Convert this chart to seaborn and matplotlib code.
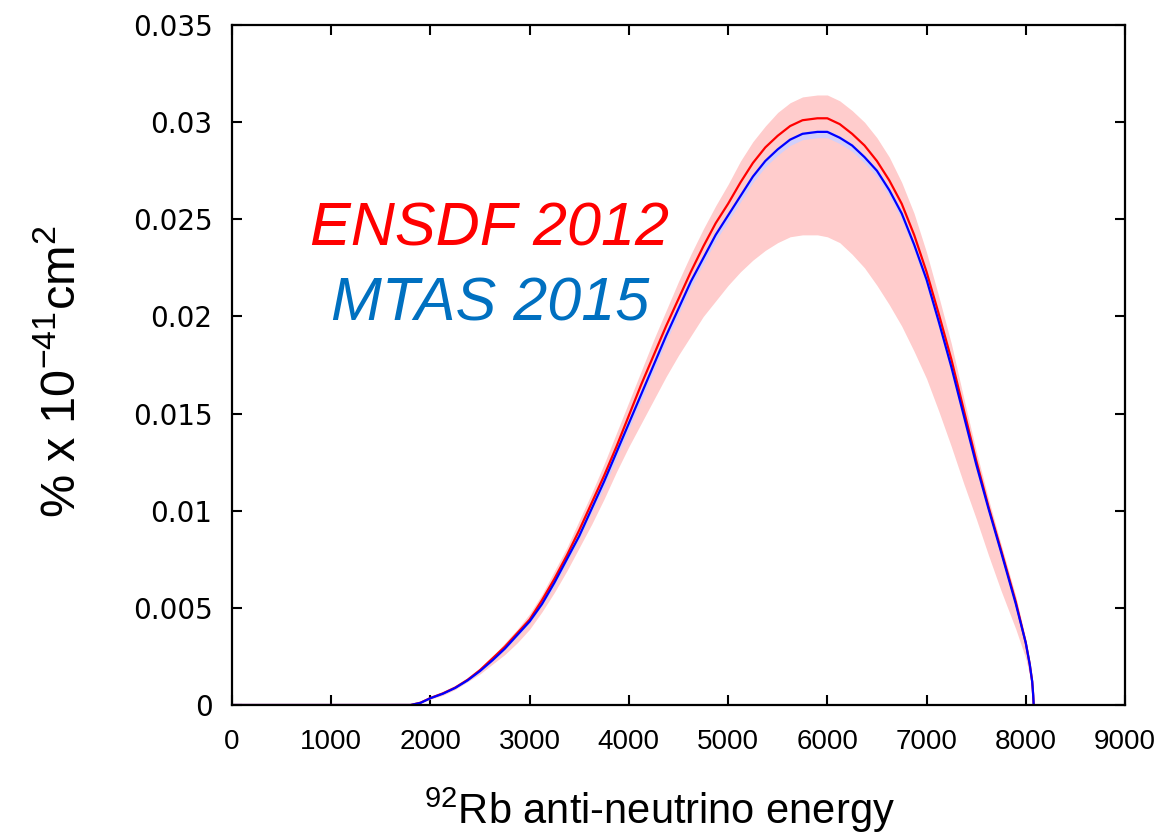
import numpy as np
import pandas as pd
import matplotlib
matplotlib.use("Agg")
import matplotlib.pyplot as plt
from matplotlib import font_manager
import seaborn as sns

# Anti-neutrino energy grid (keV)
energy = [0, 1750, 1800, 1900,
          2000, 2125, 2250, 2375, 2500, 2625, 2750, 2875, 3000, 3125, 3250,
          3375, 3500, 3625, 3750, 3875, 4000, 4125, 4250, 4375, 4500,
          4625, 4750, 4875, 5000, 5125, 5250, 5375, 5500, 5625, 5750,
          5900, 6000,
          6125, 6250, 6375, 6500, 6625, 6750, 6875, 7000, 7125, 7250,
          7375, 7500, 7625, 7750, 7900, 8000, 8040, 8065, 8075, 8080]

# ENSDF 2012 spectrum and its uncertainty band
ensdf = [0, 0, 0, 0.00012,
         0.00036, 0.0006, 0.0009, 0.0013, 0.0018, 0.0024, 0.0030, 0.0037, 0.0044,
         0.0054, 0.0065, 0.0077, 0.0090, 0.0104, 0.0118, 0.0133, 0.0149, 0.0165,
         0.0180, 0.0195, 0.0209,
         0.0223, 0.0236, 0.0248, 0.0258, 0.0269, 0.0279, 0.0287, 0.0293, 0.0298, 0.0301,
         0.0302, 0.0302,
         0.0299, 0.0294, 0.0288, 0.0280, 0.0270, 0.0258, 0.0242, 0.0223, 0.0201, 0.0178,
         0.0152, 0.0126, 0.0102, 0.0080, 0.0053, 0.0032, 0.0021, 0.0012, 0.0005, 0]
ensdf_low = [0, 0, 0, 0.0001,
             0.0003, 0.0005, 0.0008, 0.0012, 0.0016, 0.0021, 0.0026, 0.0032, 0.0039,
             0.0048, 0.0058, 0.0069, 0.0081, 0.0093, 0.0106, 0.0120, 0.0133, 0.0145,
             0.0157, 0.0169, 0.0180,
             0.0190, 0.0200, 0.0208, 0.0216, 0.0223, 0.0229, 0.0234, 0.0238, 0.0241, 0.0242,
             0.0242, 0.0241,
             0.0238, 0.0232, 0.0225, 0.0216, 0.0206, 0.0195, 0.0182, 0.0168, 0.0151, 0.0133,
             0.0114, 0.0096, 0.0077, 0.0059, 0.0039, 0.0024, 0.0015, 0.0008, 0.0003, 0]
ensdf_high = [0, 0, 0, 0.00013,
              0.0004, 0.00065, 0.00095, 0.0014, 0.0019, 0.0025, 0.0032, 0.0039, 0.0047,
              0.0057, 0.0069, 0.0081, 0.0095, 0.0109, 0.0124, 0.0140, 0.0156, 0.0172,
              0.0188, 0.0203, 0.0218,
              0.0232, 0.0245, 0.0257, 0.0268, 0.0280, 0.0290, 0.0298, 0.0305, 0.0310, 0.0313,
              0.0314, 0.0314,
              0.0311, 0.0306, 0.0300, 0.0292, 0.0282, 0.0269, 0.0253, 0.0233, 0.0210, 0.0186,
              0.0158, 0.0131, 0.0106, 0.0083, 0.0056, 0.0034, 0.0022, 0.0013, 0.0006, 0]

# MTAS 2015 spectrum and its uncertainty band
mtas = [0, 0, 0, 0.00011,
        0.00035, 0.00058, 0.00088, 0.00127, 0.00175, 0.0023, 0.0029, 0.0036, 0.0043,
        0.0052, 0.0063, 0.0075, 0.0087, 0.0101, 0.0115, 0.0130, 0.0145, 0.0160,
        0.0175, 0.0190, 0.0204,
        0.0218, 0.0230, 0.0242, 0.0252, 0.0262, 0.0272, 0.0280, 0.0286, 0.0291, 0.0294,
        0.0295, 0.0295,
        0.0292, 0.0288, 0.0282, 0.0275, 0.0265, 0.0253, 0.0237, 0.0219, 0.0197, 0.0174,
        0.0149, 0.0124, 0.0101, 0.0079, 0.0052, 0.0032, 0.0021, 0.0012, 0.0005, 0]
mtas_low = [0, 0, 0, 0.0001,
            0.00034, 0.00056, 0.00085, 0.00123, 0.0017, 0.00225, 0.00283, 0.0035, 0.0042,
            0.0051, 0.0061, 0.0073, 0.0085, 0.0099, 0.0112, 0.0127, 0.0142, 0.0157,
            0.0172, 0.0187, 0.0201,
            0.0215, 0.0227, 0.0239, 0.0249, 0.0259, 0.0269, 0.0277, 0.0283, 0.0288, 0.0291,
            0.0292, 0.0292,
            0.0289, 0.0285, 0.0279, 0.0272, 0.0262, 0.0250, 0.0234, 0.0216, 0.0194, 0.0172,
            0.0147, 0.0122, 0.0099, 0.0077, 0.0051, 0.0031, 0.0020, 0.0011, 0.0005, 0]
mtas_high = [0, 0, 0, 0.00012,
             0.00036, 0.0006, 0.0009, 0.0013, 0.0018, 0.00235, 0.0030, 0.0037, 0.0044,
             0.0053, 0.0064, 0.0076, 0.0088, 0.0102, 0.0116, 0.0131, 0.0146, 0.0161,
             0.0176, 0.0191, 0.0205,
             0.0219, 0.0231, 0.0243, 0.0253, 0.0263, 0.0273, 0.0281, 0.0287, 0.0292, 0.0295,
             0.0296, 0.0296,
             0.0293, 0.0289, 0.0283, 0.0276, 0.0266, 0.0254, 0.0238, 0.0220, 0.0198, 0.0175,
             0.0150, 0.0125, 0.0102, 0.0080, 0.0053, 0.0032, 0.0021, 0.0012, 0.0005, 0]

x_ticks = [0, 1000, 2000, 3000, 4000, 5000, 6000, 7000, 8000, 9000]
y_ticks = [0, 0.005, 0.01, 0.015, 0.02, 0.025, 0.03, 0.035]
y_tick_labels = ["0", "0.005", "0.01", "0.015", "0.02", "0.025", "0.03", "0.035"]

sns.set_style("ticks")
plt.rcParams["font.family"] = ["Liberation Sans", "DejaVu Sans"]
plt.rcParams["mathtext.fontset"] = "custom"
plt.rcParams["mathtext.rm"] = "Liberation Sans"
plt.rcParams["mathtext.it"] = "Liberation Sans:italic"
plt.rcParams["text.color"] = "black"
plt.rcParams["axes.labelcolor"] = "black"
plt.rcParams["xtick.color"] = "black"
plt.rcParams["ytick.color"] = "black"

df = pd.DataFrame({"energy": energy, "ensdf": ensdf, "mtas": mtas})

fig = plt.figure(figsize=(11.71, 8.40), dpi=100)
ax = fig.add_axes([0.1981, 0.1607, 0.7626, 0.8095])

ax.fill_between(energy, ensdf_low, ensdf_high, color="#ffcccc", lw=0, zorder=1)
ax.fill_between(energy, mtas_low, mtas_high, color="#d2d0fa", lw=0, zorder=2)
sns.lineplot(data=df, x="energy", y="ensdf", color="#ff0000", lw=1.6,
             sort=False, ax=ax, zorder=3)
sns.lineplot(data=df, x="energy", y="mtas", color="#0000ff", lw=1.6,
             sort=False, ax=ax, zorder=4)

ax.set_xlim(0, 9000)
ax.set_ylim(0, 0.035)
ax.set_xticks(x_ticks)
ax.set_xticklabels([str(t) for t in x_ticks], fontsize=20)
ax.set_yticks(y_ticks)
ax.set_yticklabels(y_tick_labels, fontsize=20, family="DejaVu Sans")
ax.tick_params(axis="both", direction="in", length=7, width=1.5,
               top=True, right=True, colors="black")
ax.tick_params(axis="x", pad=17)
ax.tick_params(axis="y", pad=14)
for s in ax.spines.values():
    s.set_linewidth(1.6)
    s.set_color("black")
    s.set_zorder(6)

ax.set_xlabel(r"$^{92}$Rb anti-neutrino energy", fontsize=30, color="black")
ax.xaxis.set_label_coords(0.479, -0.118)

narrow = any("Liberation Sans Narrow" in f.name for f in font_manager.fontManager.ttflist)
if narrow:
    ax.set_ylabel(r"% x 10$^{-41}$cm$^{2}$", fontsize=42,
                  family="Liberation Sans Narrow", color="black")
else:
    ax.set_ylabel(r"% x 10$^{-41}$cm$^{2}$", fontsize=35, color="black")
ax.yaxis.set_label_coords(-0.165, 0.49)

ax.text(0.288, 0.698, "ENSDF 2012", transform=ax.transAxes, color="#ff0000",
        fontsize=44, style="italic", ha="center", va="center")
ax.text(0.289, 0.588, "MTAS 2015", transform=ax.transAxes, color="#0070c0",
        fontsize=44, style="italic", ha="center", va="center")

fig.savefig("out.png", dpi=100)
